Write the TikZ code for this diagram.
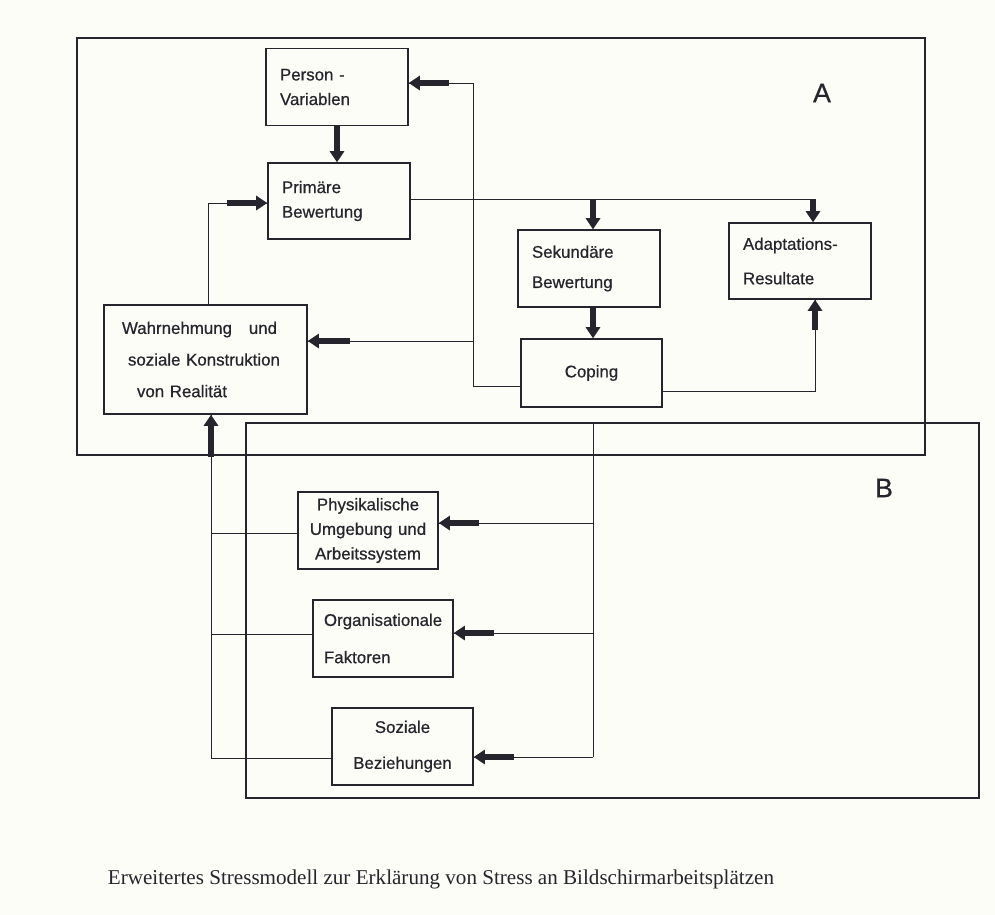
\documentclass[tikz,border=0pt]{standalone}
\usepackage{fontspec}
\setmainfont{Liberation Serif}
\newfontfamily\boxfont[FakeBold=0.6]{Liberation Sans}
\usetikzlibrary{positioning, arrows.meta, calc}
\definecolor{ink}{RGB}{38,36,44}
\definecolor{paper}{RGB}{253,253,248}
\tikzset{
box/.style={draw=ink, line width=0.9pt, text=ink, inner sep=0pt, minimum width=3.55cm, minimum height=1.92cm, text width=2.85cm, align=left, font=\boxfont\fontsize{12}{17.5}\selectfont}, % the boxes of the model
line/.style={draw=ink, line width=0.7pt}, % thin connectors
fat/.style={draw=ink, line width=4pt, -{Triangle[length=8pt,width=10pt]}}, % the short bold arrows
frame/.style={draw=ink, line width=1.3pt}, % the two areas A and B
tag/.style={text=ink, font=\boxfont\fontsize{19}{19}\selectfont},
}

\begin{document}
\begin{tikzpicture}[x=0.025cm, y=-0.025cm]

            \fill[paper] (0,0) rectangle (995,915);
            \useasboundingbox (0,0) rectangle (995,915);

            % areas
            \draw[frame] (77,38) rectangle (925,455);
            \draw[frame] (246,423) rectangle (979,798);
            \node[tag] (la) at (822,93) {A};
            \node[tag] (lb) at (884,488) {B};

            % area A
            \node[box] (pv) at (337,87) {Person -\\Variablen};
            \node[box, minimum height=1.9cm] (pb) at (339,201) {Primäre\\Bewertung};
            \node[box] (sb) at (589,268.5) {Sekundäre\\[4pt]Bewertung};
            \node[box, minimum width=3.525cm, minimum height=1.7cm, align=center] (cp) at (591.5,373) {Coping};
            \node[box, minimum height=1.9cm] (ar) at (800,261) {Adaptations-\\[7pt]Resultate};
            \node[box, minimum width=5.075cm, minimum height=2.725cm, text width=4.175cm] (wn) at (205.5,359.5)
                {Wahrnehmung\quad und\\[5pt]\hspace*{0.15cm}soziale Konstruktion\\[5pt]\hspace*{0.375cm}von Realität};

            % area B
            \node[box, minimum width=3.5cm, text width=3.2cm, align=center] (pu) at (368,530.5) {Physikalische\\Umgebung und\\Arbeitssystem};
            \node[box, minimum width=3.5cm, text width=2.95cm] (of) at (383,638.5) {Organisationale\\[9pt]Faktoren};
            \node[box, minimum width=3.525cm, align=center] (sz) at (402.5,746.5) {Soziale\\[8pt]Beziehungen};

            % Primäre -> Sekundäre, Adaptations
            \coordinate (j1) at (593,199);
            \coordinate (j2) at (813,199);
            \draw[line] (pb.east |- j1) -- (j2);
            \draw[fat] (j1) -- (j1 |- sb.north);
            \draw[fat] (j2) -- (j2 |- ar.north);
            \draw[fat] (j1 |- sb.south) -- (j1 |- cp.north);

            % Coping -> Adaptations
            \coordinate (j3) at (815,391);
            \draw[line] (cp.east |- j3) -- (j3) -- (j3 |- ar.south);
            \draw[fat] ($(j3 |- ar.south)+(0,-0.75cm)$) -- (j3 |- ar.south);

            % Coping -> Person, Wahrnehmung
            \coordinate (j4) at (473,386);
            \coordinate (j5) at (473,83);
            \coordinate (j6) at (473,341);
            \draw[line] (cp.west |- j4) -- (j4) -- (j5) -- (j5 -| pv.east);
            \draw[fat] ($(j5 -| pv.east)+(1cm,0)$) -- (j5 -| pv.east);
            \draw[line] (j6) -- (j6 -| wn.east);
            \draw[fat] ($(j6 -| wn.east)+(1.05cm,0)$) -- (j6 -| wn.east);

            % Person -> Primäre
            \draw[fat] (pv.south) -- (pv.south |- pb.north);

            % Wahrnehmung -> Primäre
            \coordinate (j7) at (208,203);
            \draw[line] (j7 |- wn.north) -- (j7) -- (j7 -| pb.west);
            \draw[fat] ($(j7 -| pb.west)+(-1cm,0)$) -- (j7 -| pb.west);

            % B -> factors
            \coordinate (btop) at (593,423);
            \foreach \n/\y in {pu/523, of/633, sz/757}{
                \coordinate (r\n) at (593,\y);
                \draw[line] (r\n) -- (r\n -| \n.east);
                \draw[fat] ($(r\n -| \n.east)+(1cm,0)$) -- (r\n -| \n.east);
            }
            \draw[line] (btop) -- (rsz);

            % factors -> Wahrnehmung
            \foreach \n/\y in {pu/533, of/634, sz/758}{
                \coordinate (l\n) at (211,\y);
                \draw[line] (l\n) -- (l\n -| \n.west);
            }
            \draw[line] (lsz) -- (lsz |- wn.south);
            \draw[fat] ($(lsz |- wn.south)+(0,-1.05cm)$) -- (lsz |- wn.south);

            \node[text=ink, font=\fontsize{15}{15}\selectfont, anchor=base] (cap) at (441,884)
                {Erweitertes Stressmodell zur Erklärung von Stress an Bildschirmarbeitsplätzen};
        \end{tikzpicture}
\end{document}
